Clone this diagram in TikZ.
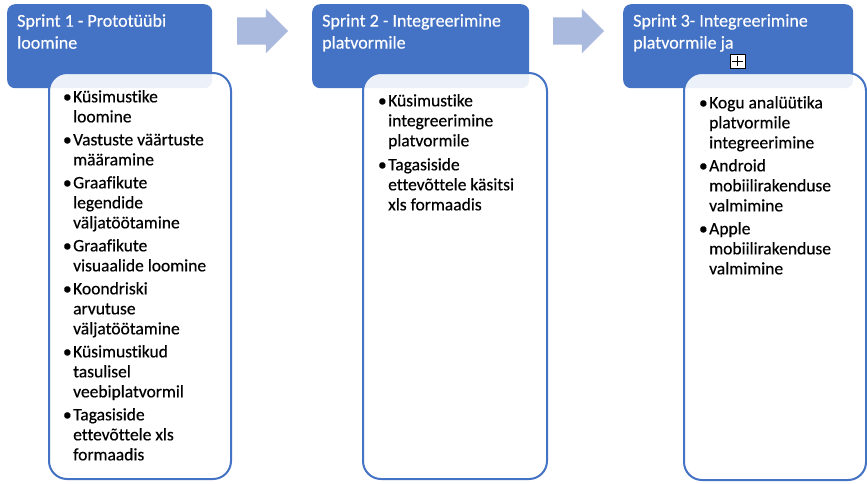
\documentclass[tikz,border=0pt]{standalone}
\usepackage{fontspec}
\setmainfont{Carlito}[Ligatures=NoCommon, FakeBold=0.4]
\usetikzlibrary{shapes.arrows,calc}
\definecolor{hblue}{RGB}{68,114,196}
\definecolor{ablue}{RGB}{170,185,222}
\begin{document}
\begin{tikzpicture}[x=1pt,y=-1pt,
 hdr/.style={fill=hblue, rounded corners=8pt, anchor=north west, inner sep=0pt, minimum height=84pt},
 card/.style={draw=hblue, line width=2pt, fill=white, fill opacity=0.9, rounded corners=18pt, anchor=north west, inner sep=0pt},
 htext/.style={text=white, anchor=north west, align=left, inner sep=0pt, font=\fontsize{18}{22}\selectfont},
 btext/.style={text=black, anchor=north west, align=left, inner sep=0pt, font=\fontsize{17.5}{20}\selectfont},
 flow/.style={single arrow, fill=ablue, draw=none, inner xsep=0pt, inner ysep=13.5pt, minimum height=51pt, single arrow head extend=8.75pt, anchor=tail},
 ovfbox/.style={draw=black, fill=white, line width=0.8pt, minimum width=15pt, minimum height=14pt, inner sep=0pt}
]
\useasboundingbox (0,0) rectangle (867,483);
\newcommand{\bul}{\llap{•\hspace{1.5pt}}}
% headers
\node[hdr, minimum width=205pt] (h1) at (7,4) {};
\node[hdr, minimum width=217pt] (h2) at (312,4) {};
\node[hdr, minimum width=230pt] (h3) at (623,4) {};
\node[htext] (t1) at (17,14) {Sprint 1 - Prototüübi\\loomine};
\node[htext] (t2) at (322,14) {Sprint 2 - Integreerimine\\platvormile};
\node[htext] (t3) at (633,14) {Sprint 3- Integreerimine\\platvormile ja};
% overflow marker
\node[ovfbox] (ovf) at (737.5,61) {};
\draw[line width=0.8pt] ($(ovf.center)+(-5.5,0)$) -- ($(ovf.center)+(5.5,0)$);
\draw[line width=0.8pt] ($(ovf.center)+(0,-5)$) -- ($(ovf.center)+(0,5)$);
% cards
\node[card, minimum width=182pt, minimum height=406pt] (c1) at (48,72) {};
\node[card, minimum width=184pt, minimum height=406pt] (c2) at (362,72) {};
\node[card, minimum width=182pt, minimum height=407pt] (c3) at (683,72) {};
% arrows
\node[flow] (a1) at (237,31) {};
\node[flow] (a2) at (553,31) {};
% body texts
\node[btext] (b1) at (73,90) {\bul Küsimustike\\loomine\\[3pt]
\bul Vastuste väärtuste\\määramine\\[3pt]
\bul Graafikute\\legendide\\väljatöötamine\\[3pt]
\bul Graafikute\\visuaalide loomine\\[3pt]
\bul Koondriski\\arvutuse\\väljatöötamine\\[3pt]
\bul Küsimustikud\\tasulisel\\veebiplatvormil\\[3pt]
\bul Tagasiside\\ettevõttele xls\\formaadis};
\node[btext] (b2) at (388,94) {\bul Küsimustike\\integreerimine\\platvormile\\[4pt]
\bul Tagasiside\\ettevõttele käsitsi\\xls formaadis};
\node[btext] (b3) at (709,96) {\bul Kogu analüütika\\platvormile\\integreerimine\\[3pt]
\bul Android\\mobiilirakenduse\\valmimine\\[3pt]
\bul Apple\\mobiilirakenduse\\valmimine};
\end{tikzpicture}
\end{document}
